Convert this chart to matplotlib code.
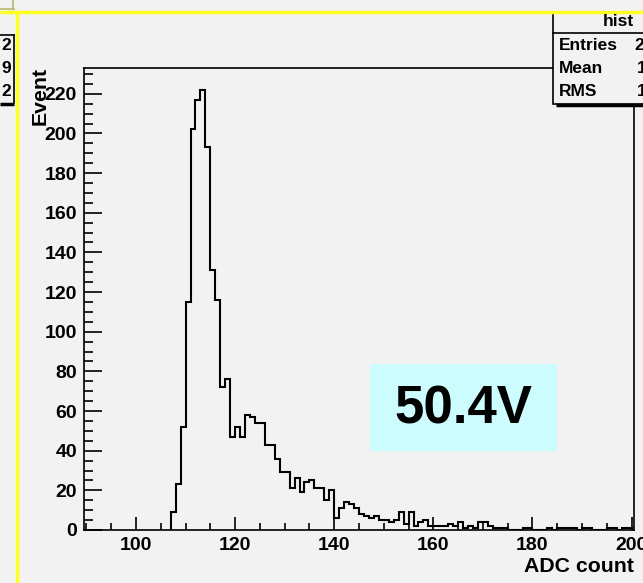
import numpy as np
import matplotlib
matplotlib.use("Agg")
import matplotlib.pyplot as plt
from matplotlib.patches import Rectangle

# ---------------- data ----------------
first_bin = 107          # low edge of first filled bin (bin width 1 ADC count)
counts = [9, 23, 52, 115, 202, 217, 222, 193, 131, 116,            # 107-116
          72, 76, 47, 52, 47, 58, 57, 54, 54, 43,                  # 117-126
          43, 36, 29, 29, 21, 26, 19, 24, 25, 21,                  # 127-136
          21, 15, 20, 6, 11, 14, 13, 11, 8, 7,                     # 137-146
          6, 7, 5, 5, 4, 5, 9, 3, 9, 2,                            # 147-156
          4, 5, 2, 2, 2, 2, 3, 2, 4, 1,                            # 157-166
          2, 1, 4, 4, 2, 1, 1, 1, 0, 0,                            # 167-176
          0, 1, 1, 0, 0, 0, 1, 0, 1, 1,                            # 177-186
          1, 1, 0, 1, 1, 0, 0, 0, 1, 1,                            # 187-196
          0, 1, 1]                                                 # 197-199
x_ticks = [100, 120, 140, 160, 180, 200]
y_ticks = [0, 20, 40, 60, 80, 100, 120, 140, 160, 180, 200, 220]
x_label = "ADC count"
y_label = "Event"
annotation = "50.4V"
stats_title = "hist"
stats_names = ["Entries", "Mean", "RMS"]
stats_vals_visible = ["2", "1", "1"]
left_vals_visible = ["2", "9", "2"]

# ---------------- style ----------------
plt.rcParams["font.family"] = ["Liberation Sans", "DejaVu Sans"]
plt.rcParams["font.weight"] = "bold"
BG = "#f2f2f2"
W, H = 643, 583

fig = plt.figure(figsize=(W / 100, H / 100), dpi=100, facecolor=BG)


def fx(x):
    return x / W


def fy(y):
    return 1 - y / H


ax = fig.add_axes([fx(84), fy(530), fx(634) - fx(84), fy(68) - fy(530)])
ax.set_facecolor(BG)

edges = np.arange(first_bin, first_bin + len(counts) + 1)
ax.stairs(counts, edges, color="black", lw=1.5, baseline=0)

ax.set_xlim(89.5, 200.5)
ax.set_ylim(0, 233)
ax.set_xticks(x_ticks)
ax.set_xticks(np.arange(90, 201, 5), minor=True)
ax.set_yticks(y_ticks)
ax.set_yticks(np.arange(0, 231, 5), minor=True)
ax.set_xticklabels([str(t) for t in x_ticks], fontsize=14, fontweight="bold")
ax.set_yticklabels([str(t) for t in y_ticks], fontsize=14, fontweight="bold")

ax.tick_params(axis="x", which="major", direction="in", length=9.5, width=1.2, pad=5)
ax.tick_params(axis="x", which="minor", direction="in", length=5, width=1.2)
ax.tick_params(axis="y", which="major", direction="in", length=13, width=1.2, pad=5)
ax.tick_params(axis="y", which="minor", direction="in", length=6.5, width=1.2)
ax.tick_params(top=False, right=False)
for s in ax.spines.values():
    s.set_linewidth(1.2)

fig.text(fx(634), fy(566), x_label, ha="right", va="center", fontsize=15.3, fontweight="bold")
fig.text(fx(40), fy(67), y_label, ha="center", va="top", rotation=90, fontsize=15.3, fontweight="bold")

# ---------------- overlay (pads, stats boxes, label box) ----------------
ov = fig.add_axes([0, 0, 1, 1], zorder=10)
ov.set_xlim(0, W)
ov.set_ylim(H, 0)
ov.axis("off")
ov.patch.set_alpha(0)

# cyan label box
ov.add_patch(Rectangle((370, 364), 187, 87, facecolor="#ccfcfd", edgecolor="none"))
ov.text(463.5, 409, annotation, ha="center", va="center", fontsize=38, fontweight="bold")

# right stats box
ov.add_patch(Rectangle((553, 12), 100, 92, facecolor=BG, edgecolor="black", lw=1.2))
ov.plot([556, 643], [105, 105], color="black", lw=2.5, solid_capstyle="butt")
ov.plot([553, 643], [33, 33], color="black", lw=1.2)
ov.text(618, 22, stats_title, ha="center", va="center", fontsize=12.5, fontweight="bold")
for i, (n, v) in enumerate(zip(stats_names, stats_vals_visible)):
    yy = 45 + i * 23.5
    ov.text(559, yy, n, ha="left", va="center", fontsize=12.5, fontweight="bold")
    ov.text(634 + (3 if i else 0), yy, v, ha="left", va="center", fontsize=12.5, fontweight="bold")

# left (neighbouring pad) stats box remnant
ov.plot([0, 14], [35, 35], color="black", lw=1.2)
ov.plot([14, 14], [35, 103], color="black", lw=1.2)
ov.plot([0, 14], [104, 104], color="black", lw=2.5, solid_capstyle="butt")
for i, v in enumerate(left_vals_visible):
    ov.text(11, 45 + i * 23.5, v, ha="right", va="center", fontsize=12.5, fontweight="bold")

# yellow pad borders
ov.plot([0, 14], [9, 9], color="#b8b870", lw=1.2)
ov.plot([13, 13], [0, 9], color="#b8b870", lw=1.2)
ov.plot([0, W], [11.5, 11.5], color="#ffff20", lw=2.5, solid_capstyle="butt")
ov.plot([16.5, 16.5], [11.5, H], color="#ffff20", lw=2.5, solid_capstyle="butt")

fig.savefig("out.png", dpi=100, facecolor=BG)
